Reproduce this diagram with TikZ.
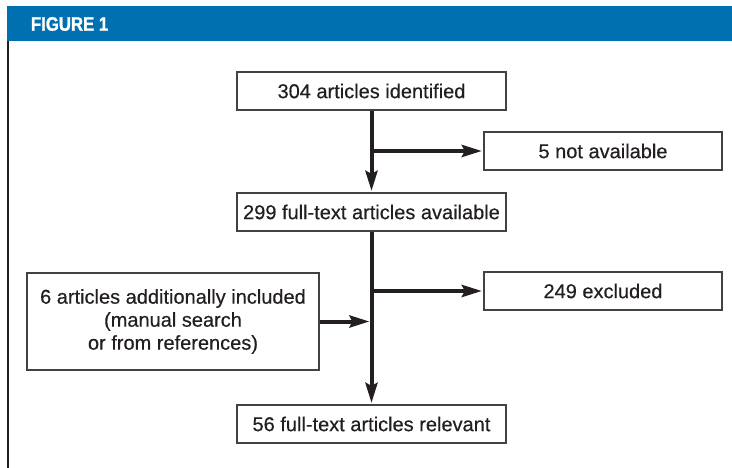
\documentclass[tikz,border=0pt]{standalone}
\usepackage{fontspec}
\setmainfont[FakeBold=0.4]{Liberation Sans}
\newfontfamily\headfont[FakeStretch=0.86,FakeBold=1.2]{Liberation Sans}
\usetikzlibrary{arrows.meta,positioning}
\definecolor{figblue}{RGB}{0,112,176}
\definecolor{inkgray}{RGB}{35,31,32}

\begin{document}
\begin{tikzpicture}[
                x=1pt, y=-1pt,
                box/.style={
                    draw=inkgray!85,
                    line width=1.2pt,
                    rectangle,
                    minimum height=38pt,
                    inner sep=0pt,
                    align=center,
                    text=inkgray,
                    font=\fontsize{20}{23}\selectfont
                },
                mainbox/.style={
                    box,
                    minimum width=269pt
                },
                sidebox/.style={
                    box,
                    minimum width=238pt
                },
                arrow/.style={
                    -{Stealth[length=20pt,width=12pt,inset=3pt]},
                    line width=4pt,
                    draw=inkgray,
                    shorten >=1.5pt
                }
            ]
                \useasboundingbox (0,0) rectangle (732,468);

                % header bar and frame
                \fill[figblue] (7,6) rectangle (732,41);
                \node[anchor=base west, inner sep=0pt, text=white,
                      font=\headfont\bfseries\fontsize{19.5}{20}\selectfont] (title) at (30.7,30.7) {FIGURE 1};
                \draw[inkgray, line width=2pt] (8,41) -- (8,468);

                \node[mainbox] (ident) at (371.5,91)  {304 articles identified};
                \node[sidebox] (notavail) at (603,151) {5 not available};
                \node[mainbox] (avail) at (371.5,212) {299 full-text articles available};
                \node[sidebox] (excl) at (603,291) {249 excluded};
                \node[box, minimum width=292pt, minimum height=97pt] (addl) at (173,321.5)
                    {6 articles additionally included\\(manual search\\or from references)};
                \node[mainbox] (relev) at (371.5,424) {56 full-text articles relevant};

                \draw[arrow] (ident) -- (avail);
                \draw[arrow] (ident.south |- notavail.west) -- (notavail.west);
                \draw[arrow] (avail) -- (relev);
                \draw[arrow] (avail.south |- excl.west) -- (excl.west);
                \draw[arrow, shorten >=2pt] (addl.east) -- (addl.east -| avail.south);
        \end{tikzpicture}
\end{document}
